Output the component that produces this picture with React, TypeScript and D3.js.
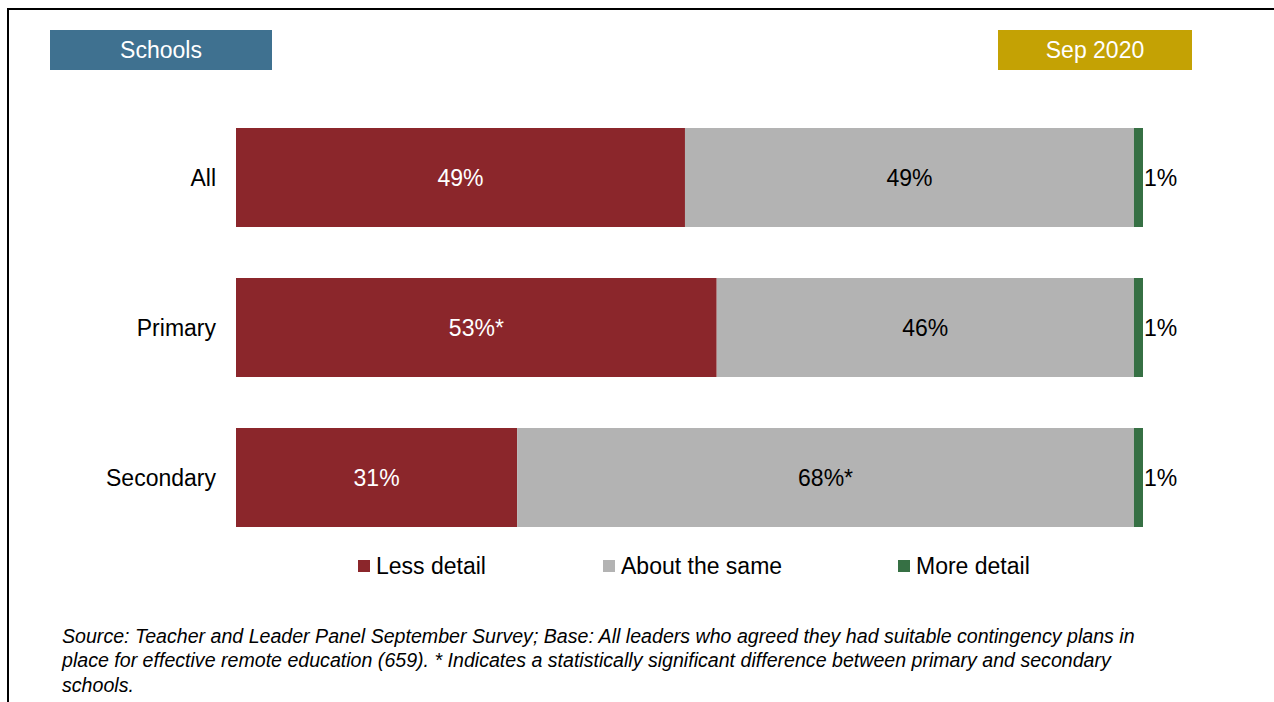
import React from "react";
import * as d3 from "d3";

const categories = ["All", "Primary", "Secondary"];
const seriesNames = ["Less detail", "About the same", "More detail"];
const lessDetail = [49.5, 53.0, 31.0];
const aboutSame = [49.5, 46.0, 68.0];
const moreDetail = [1.0, 1.0, 1.0];
const lessLabels = ["49%", "53%*", "31%"];
const sameLabels = ["49%", "46%", "68%*"];
const moreLabels = ["1%", "1%", "1%"];
const colors = ["#8b262b", "#b3b3b3", "#367044"];
const textColors = ["#ffffff", "#000000", "#000000"];

const FONT = "'Liberation Sans', Arial, sans-serif";

export default function App() {
  const W = 1274, H = 702;
  const x = d3.scaleLinear().domain([0, 100]).range([236, 1143]);
  const y = d3.scaleBand().domain(categories).range([102.5, 552.5]).paddingInner(0.34).paddingOuter(0.17);

  const rows = categories.map((c, i) => ({ cat: c, less: lessDetail[i], same: aboutSame[i], more: moreDetail[i] }));
  const stack = d3.stack<any>().keys(["less", "same", "more"])(rows);
  const labels = [lessLabels, sameLabels, moreLabels];

  const legendX = [358, 603, 898];
  const FS = 23;

  return (
    <svg width={W} height={H} style={{ position: "absolute", left: 0, top: 0 }} fontFamily={FONT}>
      <rect x={0} y={0} width={W} height={H} fill="#fff" />
      <line x1={7} y1={9} x2={W} y2={9} stroke="#000" strokeWidth={2} />
      <line x1={8} y1={8} x2={8} y2={H} stroke="#000" strokeWidth={2} />

      <rect x={50} y={30} width={222} height={40} fill="#3f7190" />
      <text x={161} y={58} textAnchor="middle" fill="#fff" fontSize={FS}>Schools</text>
      <rect x={998} y={30} width={194} height={40} fill="#c4a204" />
      <text x={1095} y={58} textAnchor="middle" fill="#fff" fontSize={FS}>Sep 2020</text>

      {categories.map((c) => (
        <text key={c} x={216} y={(y(c) as number) + y.bandwidth() / 2 + 8} textAnchor="end" fontSize={FS} fill="#000">{c}</text>
      ))}

      {stack.map((layer, si) => (
        <g key={si}>
          {layer.map((d, i) => {
            const x0 = x(d[0]);
            const x1 = x(d[1]);
            const yy = y(categories[i]) as number;
            return (
              <g key={i}>
                <rect x={x0} y={yy} width={x1 - x0} height={y.bandwidth()} fill={colors[si]} />
                {si < 2 ? (
                  <text x={(x0 + x1) / 2} y={yy + y.bandwidth() / 2 + 8} textAnchor="middle" fontSize={FS} fill={textColors[si]}>{labels[si][i]}</text>
                ) : (
                  <text x={x1 + 1} y={yy + y.bandwidth() / 2 + 8} textAnchor="start" fontSize={FS} fill="#000">{labels[si][i]}</text>
                )}
              </g>
            );
          })}
        </g>
      ))}

      {seriesNames.map((s, i) => (
        <g key={s}>
          <rect x={legendX[i]} y={560} width={12} height={12} fill={colors[i]} />
          <text x={legendX[i] + 18} y={574} fontSize={FS} fill="#000">{s}</text>
        </g>
      ))}

      <g fontStyle="italic" fontSize={19.6} fill="#000">
        <text x={62} y={643}>Source: Teacher and Leader Panel September Survey; Base: All leaders who agreed they had suitable contingency plans in</text>
        <text x={62} y={667}>place for effective remote education (659). * Indicates a statistically significant difference between primary and secondary</text>
        <text x={62} y={692}>schools.</text>
      </g>
    </svg>
  );
}
